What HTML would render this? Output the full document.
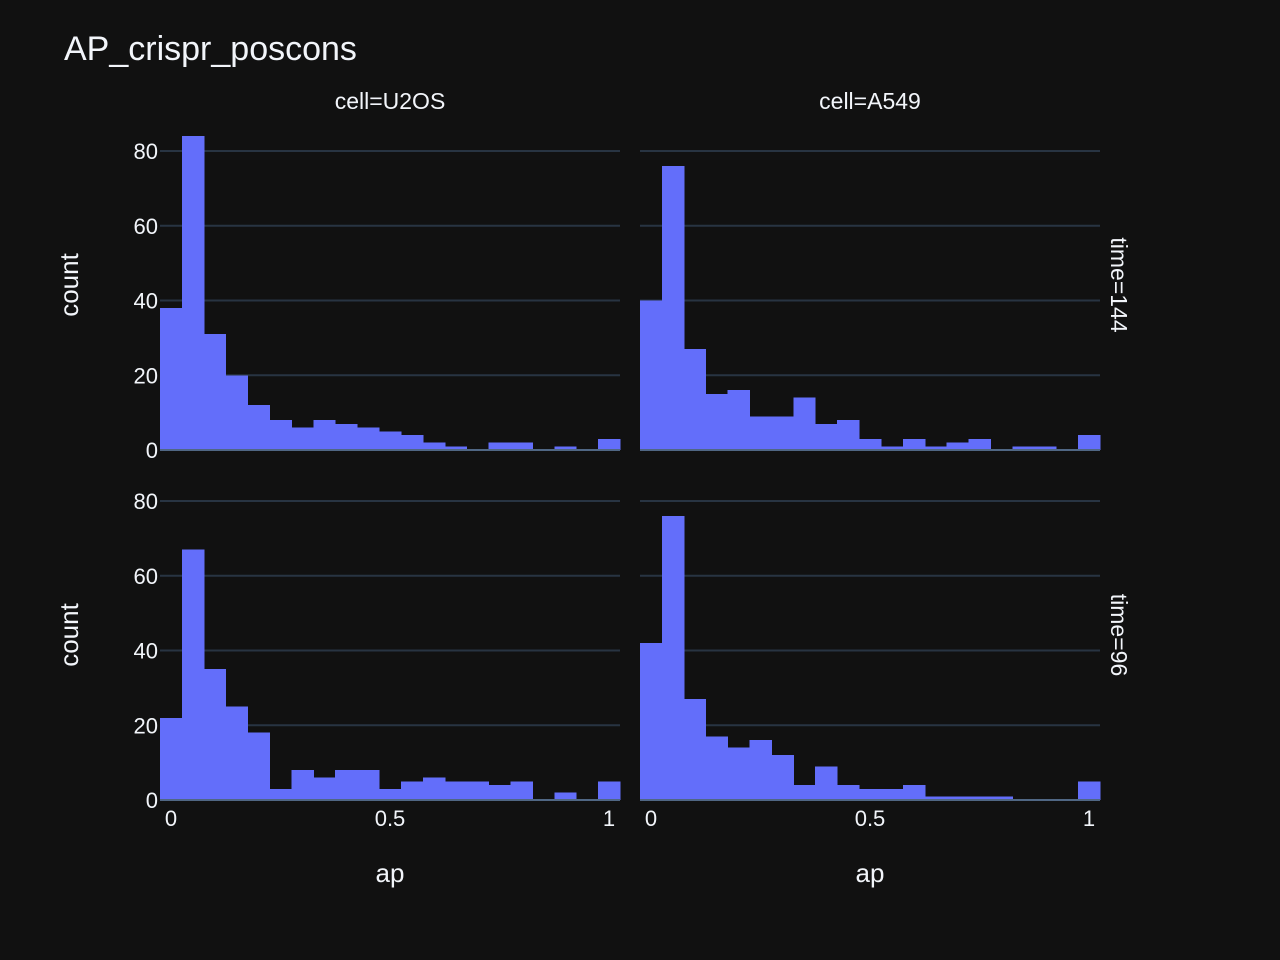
<!DOCTYPE html>
<html><head><meta charset="utf-8"><style>
html,body{margin:0;background:#111111;overflow:hidden;width:1280px;height:960px;}
svg{display:block;}
svg text{font-family:"Liberation Sans",sans-serif;fill:#f2f5fa;}
</style></head><body>
<svg id="chart" width="1280" height="960" xmlns="http://www.w3.org/2000/svg">
<rect width="1280" height="960" fill="#111111"/>
<text x="64" y="60" font-size="34">AP_crispr_poscons</text>
</svg>
<script>
const binStarts = [-0.025,0.025,0.075,0.125,0.175,0.225,0.275,0.325,0.375,0.425,0.475,0.525,0.575,0.625,0.675,0.725,0.775,0.825,0.875,0.925,0.975];
const u2os144 = [38,84,31,20,12,8,6,8,7,6,5,4,2,1,0,2,2,0,1,0,3];
const a549144 = [40,76,27,15,16,9,9,14,7,8,3,1,3,1,2,3,0,1,1,0,4];
const u2os96 = [22,67,35,25,18,3,8,6,8,8,3,5,6,5,5,4,5,0,2,0,5];
const a54996 = [42,76,27,17,14,16,12,4,9,4,3,3,4,1,1,1,1,0,0,0,5];
const yTicks = [0,20,40,60,80];
const xTicks = [0,0.5,1];
const xTickLabels = ["0","0.5","1"];
const binWidth = 0.05;

const svg = document.getElementById('chart');
const NS = 'http://www.w3.org/2000/svg';
function mk(tag, attrs){const e=document.createElementNS(NS,tag);for(const k in attrs)e.setAttribute(k,attrs[k]);svg.appendChild(e);return e;}

const panels = [
 {name:'u2os-144', data:u2os144, x0:160, x1:620, y0:450},
 {name:'a549-144', data:a549144, x0:640, x1:1100, y0:450},
 {name:'u2os-96', data:u2os96, x0:160, x1:620, y0:800},
 {name:'a549-96', data:a54996, x0:640, x1:1100, y0:800}
];
const yPerUnit = (450-151)/80;
panels.forEach((p,pi)=>{
  const xs = v => p.x0 + (v+0.025)/1.05*(p.x1-p.x0);
  const ys = v => p.y0 - v*yPerUnit;
  yTicks.forEach(t=>{
    if(t===0) return;
    const g = mk('line',{x1:p.x0,x2:p.x1,y1:ys(t),y2:ys(t),stroke:'#283442','stroke-width':2});
    
    
  });
  p.data.forEach((v,i)=>{
    const a = xs(binStarts[i]), b = xs(binStarts[i]+binWidth);
    const r = mk('rect',{x:a,y:ys(v),width:b-a+0.5,height:p.y0-ys(v),fill:'#636efa','shape-rendering':'crispEdges'});
    
    
  });
  const z = mk('line',{x1:p.x0,x2:p.x1,y1:p.y0,y2:p.y0,stroke:'#506784','stroke-width':2});
  
  
  if(pi%2===0){
    yTicks.forEach(t=>{
      const tx = mk('text',{x:p.x0-2,y:ys(t)+8,'font-size':22,'text-anchor':'end'});
      tx.textContent=t;
      
      
    });
    const yt = mk('text',{x:0,y:0,'font-size':26,'text-anchor':'middle',transform:`translate(78,${p.y0-165}) rotate(-90)`});
    yt.textContent='count';
    
    
  }
  if(pi>=2){
    xTicks.forEach((t,k)=>{
      const tx = mk('text',{x:xs(t),y:826,'font-size':22,'text-anchor':'middle'});
      tx.textContent=xTickLabels[k];
      
      
    });
    const xt = mk('text',{x:(p.x0+p.x1)/2,y:882,'font-size':26,'text-anchor':'middle'});
    xt.textContent='ap';
    
    
  }
});
[['cell=U2OS',390],['cell=A549',870]].forEach(([s,x])=>{
  const t = mk('text',{x:x,y:109,'font-size':23,'text-anchor':'middle'});
  t.textContent=s;
  
  
});
[['time=144',285],['time=96',635]].forEach(([s,y])=>{
  const t = mk('text',{x:0,y:0,'font-size':23,'text-anchor':'middle',transform:`translate(1111,${y}) rotate(90)`});
  t.textContent=s;
  
  
});
</script>
</body></html>
